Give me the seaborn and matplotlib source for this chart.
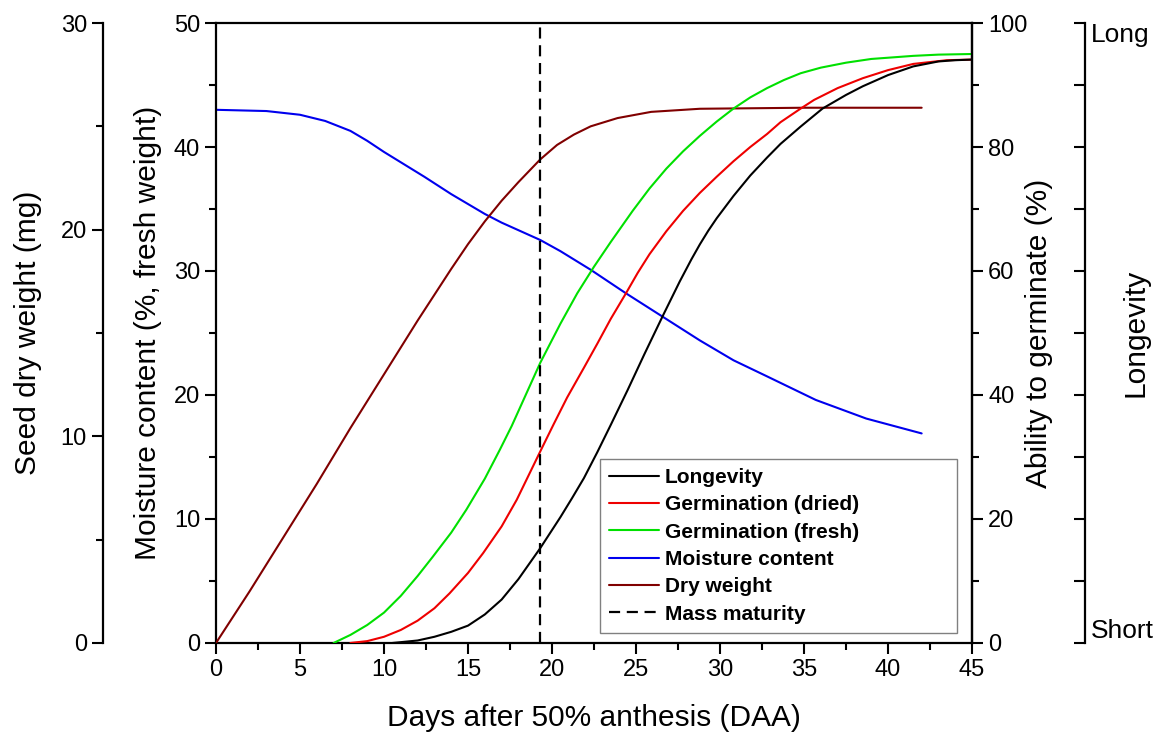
import matplotlib
matplotlib.use("Agg")
import matplotlib.pyplot as plt
import seaborn as sns
import numpy as np
from matplotlib.ticker import MultipleLocator, FixedLocator
from matplotlib.lines import Line2D

# --- data ---
long_days = [10.5, 12, 13, 14, 15, 16, 17, 18, 19.3, 20.5, 21.2, 21.9, 22.7, 23.5, 24.5, 25.5,
             26.6, 27.6, 28.3, 28.8, 29.3, 29.8, 30.8, 31.8, 32.8, 33.6, 34.8, 36.1, 37.5,
             38.5, 40, 41.5, 43, 44, 45]
long_vals = [0, 0.4, 1.0, 1.8, 2.8, 4.6, 7.0, 10.3, 15.3, 20.3, 23.4, 26.6, 30.8, 35.2, 40.8,
             46.6, 52.8, 58.3, 61.9, 64.3, 66.5, 68.5, 72.1, 75.4, 78.3, 80.5, 83.3, 86.2, 88.4,
             89.8, 91.6, 93.0, 93.8, 94.0, 94.1]

dried_days = [8.0, 9, 10, 11, 12, 13, 13.9, 15, 15.9, 17, 17.9, 18.6, 19.3, 20.1, 20.9, 21.9,
              22.7, 23.5, 24.4, 25.1, 25.8, 26.8, 27.8, 28.8, 29.8, 30.8, 31.8, 32.8, 33.6,
              34.8, 35.6, 37, 38.5, 40, 41.5, 43.5, 45]
dried_vals = [0, 0.3, 1.0, 2.1, 3.6, 5.6, 8.0, 11.3, 14.5, 18.8, 23.1, 27.0, 30.9, 35.3, 39.6,
              44.4, 48.3, 52.3, 56.4, 59.7, 62.7, 66.4, 69.7, 72.6, 75.2, 77.7, 80.0, 82.1,
              84.0, 86.2, 87.6, 89.5, 91.1, 92.4, 93.4, 94.0, 94.1]

fresh_days = [7, 8, 9, 10, 11, 12, 12.9, 14, 14.9, 16, 16.9, 17.6, 18.2, 19.3, 20.5, 21.5,
              22.5, 23.5, 24.8, 25.8, 26.8, 27.8, 28.8, 29.8, 30.8, 31.8, 32.8, 33.8, 34.8,
              36, 37.5, 39, 41.5, 43, 45]
fresh_vals = [0, 1.3, 2.9, 4.9, 7.6, 10.8, 13.9, 17.8, 21.5, 26.5, 31.2, 35.0, 38.6, 45.2,
              51.5, 56.4, 60.7, 64.7, 69.7, 73.3, 76.5, 79.3, 81.8, 84.1, 86.2, 88.0, 89.5,
              90.8, 91.9, 92.8, 93.6, 94.2, 94.7, 94.9, 95.0]

moist_days = [0, 3, 5, 6.5, 8, 9, 10, 11.2, 12.4, 14, 16, 17, 19.3, 20.5, 22.3, 24.4, 26.6,
              28.8, 30.8, 32.8, 35.7, 38.7, 42]
moist_vals = [43.0, 42.9, 42.6, 42.1, 41.3, 40.5, 39.6, 38.6, 37.6, 36.2, 34.6, 33.9, 32.5,
              31.6, 30.1, 28.2, 26.3, 24.4, 22.8, 21.5, 19.6, 18.1, 16.9]

dw_days = [0, 2, 4, 6, 8, 10, 12, 14, 15, 16, 17, 18, 19.3, 20.3, 21.3, 22.3, 23.9, 25.9,
           28.8, 35, 42]
dw_vals = [0, 2.5, 5.1, 7.7, 10.4, 13.0, 15.6, 18.1, 19.3, 20.4, 21.4, 22.3, 23.4, 24.1,
           24.6, 25.0, 25.4, 25.7, 25.85, 25.9, 25.9]

mass_maturity = 19.3

names = ["Longevity", "Germination (dried)", "Germination (fresh)", "Moisture content",
         "Dry weight", "Mass maturity"]

sns.set_style("ticks")
plt.rcParams["font.family"] = ["Liberation Sans", "DejaVu Sans"]
plt.rcParams["axes.linewidth"] = 1.6
for k in ["text.color", "axes.labelcolor", "xtick.color", "ytick.color", "axes.edgecolor"]:
    plt.rcParams[k] = "black"

fig = plt.figure(figsize=(11.72, 7.35), dpi=100)
ax = fig.add_axes([0.1843, 0.1252, 0.6451, 0.8435])
ax_dw = ax.twinx()
ax_g = ax.twinx()
ax_l = ax.twinx()

lw = 1.5
c_long, c_dried, c_fresh, c_moist, c_dw = "black", "#ee0000", "#00e000", "#0000ee", "#800000"
dash = (0, (5, 3))

sns.lineplot(x=moist_days, y=moist_vals, ax=ax, color=c_moist, lw=lw, estimator=None)
sns.lineplot(x=dw_days, y=dw_vals, ax=ax_dw, color=c_dw, lw=lw, estimator=None)
sns.lineplot(x=fresh_days, y=fresh_vals, ax=ax_g, color=c_fresh, lw=lw, estimator=None)
sns.lineplot(x=dried_days, y=dried_vals, ax=ax_g, color=c_dried, lw=lw, estimator=None)
sns.lineplot(x=long_days, y=long_vals, ax=ax_g, color=c_long, lw=lw, estimator=None)
ax_g.axvline(mass_maturity, color="black", lw=1.6, ls=dash)

ax.set_xlim(0, 45)
ax.set_ylim(0, 50)
ax_dw.set_ylim(0, 30)
ax_g.set_ylim(0, 100)
ax_l.set_ylim(0, 100)

tick_fs = 17
label_fs = 21.5

# x axis
ax.xaxis.set_major_locator(MultipleLocator(5))
ax.xaxis.set_minor_locator(MultipleLocator(2.5))
ax.tick_params(axis="x", which="major", direction="out", length=8, width=1.5,
               labelsize=tick_fs, top=False)
ax.tick_params(axis="x", which="minor", direction="out", length=5, width=1.5, top=False)

# moisture (main left)
ax.yaxis.set_major_locator(MultipleLocator(10))
ax.yaxis.set_minor_locator(MultipleLocator(5))
ax.tick_params(axis="y", which="major", direction="out", length=8, width=1.5, labelsize=tick_fs)
ax.tick_params(axis="y", which="minor", direction="out", length=5, width=1.5)

# seed dry weight (outer left)
ax_dw.spines["left"].set_visible(True)
ax_dw.spines["left"].set_position(("axes", -0.1495))
ax_dw.spines["right"].set_visible(False)
ax_dw.spines["top"].set_visible(False)
ax_dw.spines["bottom"].set_visible(False)
ax_dw.yaxis.set_ticks_position("left")
ax_dw.yaxis.set_label_position("left")
ax_dw.yaxis.set_major_locator(MultipleLocator(10))
ax_dw.yaxis.set_minor_locator(MultipleLocator(5))
ax_dw.tick_params(axis="y", which="major", direction="out", length=8, width=1.5, labelsize=tick_fs)
ax_dw.tick_params(axis="y", which="minor", direction="out", length=5, width=1.5)

# germination (right)
for s in ["left", "top", "bottom"]:
    ax_g.spines[s].set_visible(False)
ax_g.yaxis.set_major_locator(MultipleLocator(20))
ax_g.yaxis.set_minor_locator(MultipleLocator(10))
ax_g.tick_params(axis="y", which="major", direction="out", length=8, width=1.5, labelsize=tick_fs)
ax_g.tick_params(axis="y", which="minor", direction="out", length=5, width=1.5)

# longevity (outer right)
for s in ["left", "top", "bottom"]:
    ax_l.spines[s].set_visible(False)
ax_l.spines["right"].set_position(("axes", 1.1495))
ax_l.yaxis.set_major_locator(FixedLocator(np.arange(0, 101, 10)))
ax_l.set_yticklabels(["Short"] + [""] * 9 + ["Long"])
ax_l.tick_params(axis="y", which="major", direction="in", length=8, width=1.5,
                 labelsize=tick_fs + 2, pad=4)
tl = ax_l.get_yticklabels()
tl[0].set_va("bottom")
tl[-1].set_va("top")

# labels
ax.set_xlabel("Days after 50% anthesis (DAA)", fontsize=label_fs, va="center")
ax.xaxis.set_label_coords(0.5, -0.121)
ax.set_ylabel("Moisture content (%, fresh weight)", fontsize=label_fs, va="center")
ax.yaxis.set_label_coords((148 - 216) / 756, 0.5)
ax_dw.set_ylabel("Seed dry weight (mg)", fontsize=label_fs, va="center")
ax_dw.yaxis.set_label_coords((28 - 216) / 756, 0.5)
ax_g.set_ylabel("Ability to germinate (%)", fontsize=label_fs, va="center")
ax_g.yaxis.set_label_coords((1039 - 216) / 756, 0.5)
ax_l.set_ylabel("Longevity", fontsize=label_fs, va="center")
ax_l.yaxis.set_label_coords((1135 - 216) / 756, 0.5)

# legend
handles = [
    Line2D([], [], color=c_long, lw=lw),
    Line2D([], [], color=c_dried, lw=lw),
    Line2D([], [], color=c_fresh, lw=lw),
    Line2D([], [], color=c_moist, lw=lw),
    Line2D([], [], color=c_dw, lw=lw),
    Line2D([], [], color="black", lw=1.6, ls=dash),
]
leg = ax_l.legend(handles, names, loc="lower left", mode="expand",
                  bbox_to_anchor=(0.508, 0.016, 0.472, 0.28),
                  prop={"weight": "bold", "size": 15}, frameon=True, fancybox=False,
                  edgecolor="#808080", framealpha=1, handlelength=2.4, handletextpad=0.25,
                  labelspacing=0.4, borderpad=0.45, borderaxespad=0)
leg.get_frame().set_linewidth(1.0)

fig.savefig("out.png", dpi=100)
